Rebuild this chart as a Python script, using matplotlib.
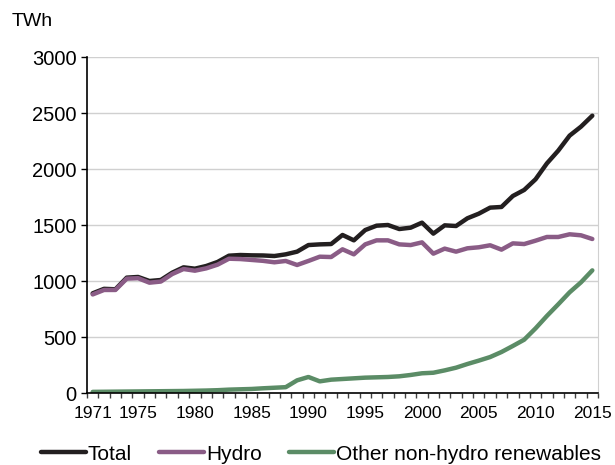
import matplotlib
matplotlib.use("Agg")
import matplotlib.pyplot as plt
import numpy as np

years = list(range(1971, 2016))
total = [890, 930, 926, 1030, 1036, 1000, 1009, 1074, 1122, 1110,
         1134, 1170, 1226, 1232, 1229, 1228, 1223, 1238, 1262, 1321,
         1327, 1330, 1411, 1363, 1455, 1494, 1500, 1464, 1476, 1521,
         1423, 1497, 1491, 1560, 1601, 1655, 1661, 1759, 1813, 1908,
         2050, 2164, 2298, 2378, 2476]
hydro = [880, 920, 920, 1021, 1025, 985, 995, 1062, 1107, 1092,
         1113, 1146, 1199, 1196, 1188, 1180, 1167, 1179, 1143, 1179,
         1217, 1214, 1283, 1238, 1327, 1363, 1363, 1327, 1321, 1345,
         1244, 1289, 1262, 1292, 1301, 1319, 1280, 1336, 1330, 1360,
         1393, 1393, 1417, 1408, 1375]
other = [10, 11, 12, 13, 14, 15, 16, 17, 18, 20,
         22, 25, 30, 33, 36, 42, 47, 52, 113, 143,
         104, 119, 125, 131, 137, 140, 143, 149, 161, 176,
         181, 202, 226, 259, 289, 321, 366, 420, 476, 577,
         688, 792, 899, 988, 1095]
label_years = [1971, 1975, 1980, 1985, 1990, 1995, 2000, 2005, 2010, 2015]
series_names = ["Total", "Hydro", "Other non-hydro renewables"]

plt.rcParams['font.family'] = ['Liberation Sans', 'DejaVu Sans']
fig = plt.figure(figsize=(6.15, 4.65), dpi=100)
ax = fig.add_axes([87/615, 1 - 393/465, (598-87)/615, (393-57)/465])

colors = ["#231f20", "#8a5c86", "#5b8c66"]
for vals, name, c in zip([total, hydro, other], series_names, colors):
    ax.plot(years, vals, color=c, lw=3.2, label=name,
            solid_capstyle='round', solid_joinstyle='round')

ax.set_xlim(1970.5, 2015.5)
ax.set_ylim(0, 3000)
ax.set_yticks(np.arange(0, 3001, 500))
ax.yaxis.grid(True, color="#d0d0d0", lw=1.0)
ax.set_axisbelow(True)
ax.set_xticks(label_years)
ax.set_xticklabels([str(y) for y in label_years])
ax.set_xticks(np.arange(1970.5, 2016, 1), minor=True)
ax.tick_params(axis='x', which='major', length=0, labelsize=12.5, pad=9)
ax.tick_params(axis='x', which='minor', length=3.6, color="#404040", width=1)
ax.tick_params(axis='y', length=4.3, width=1, labelsize=14.5, pad=3)
ax.spines['top'].set_visible(False)
ax.spines['right'].set_color("#d0d0d0")
ax.spines['left'].set_linewidth(1.2)
ax.spines['bottom'].set_linewidth(1.2)

fig.text(12/615, 1 - 22/465, "TWh", fontsize=14, va='center', ha='left')

leg = fig.legend(loc='center left', bbox_to_anchor=(41/615, 1 - 454/465), ncol=3, frameon=False,
                 fontsize=15, handlelength=2.15, handletextpad=0.1, columnspacing=1.3,
                 borderpad=0, borderaxespad=0)

fig.savefig("out.png", dpi=100)
